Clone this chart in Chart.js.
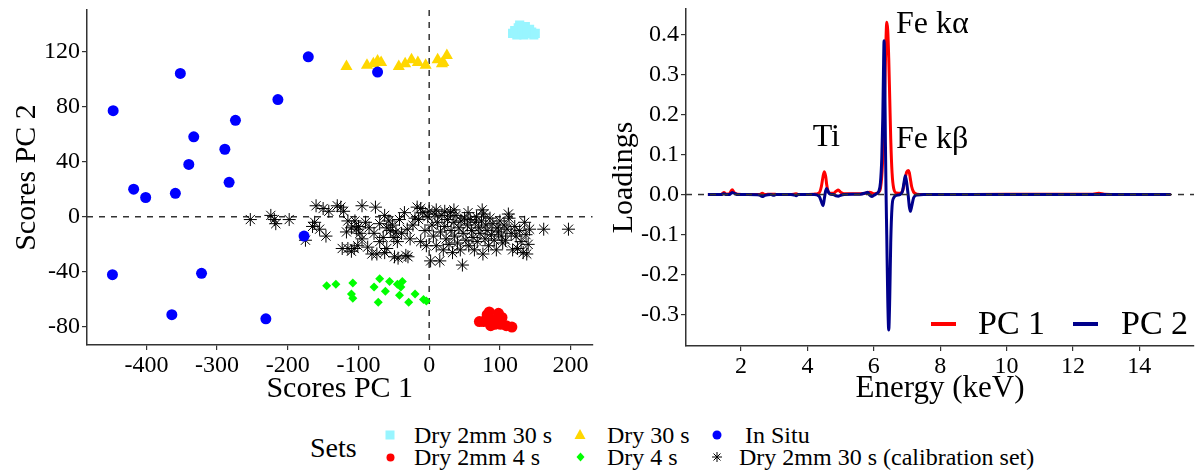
<!DOCTYPE html>
<html>
<head>
<meta charset="utf-8">
<script src="https://cdn.jsdelivr.net/npm/chart.js@4"></script>
<style>
  html, body { margin: 0; padding: 0; background: #fff; }
  #wrap { position: relative; width: 1200px; height: 473px; overflow: hidden;
          font-family: "Liberation Serif", "Times New Roman", serif; color: #000; }
  #scores { position: absolute; left: 0; top: 0; }
  #loadings { position: absolute; left: 600px; top: 0; }
  .lg { position: absolute; white-space: nowrap; line-height: 1; }
  .mk { position: absolute; }
</style>
</head>
<body>
<div id="wrap">
  <canvas id="scores" width="600" height="410"></canvas>
  <canvas id="loadings" width="600" height="410"></canvas>

  <!-- PC legend inside the loadings panel -->
  <div class="mk" style="left:931px;top:322px;width:25px;height:4px;background:#FF0000"></div>
  <div class="lg" style="left:978px;top:306px;font-size:34px">PC 1</div>
  <div class="mk" style="left:1073px;top:322px;width:25px;height:4px;background:#00008B"></div>
  <div class="lg" style="left:1121px;top:306px;font-size:34px">PC 2</div>

  <!-- Sets legend -->
  <div class="lg" style="left:310px;top:434px;font-size:28px">Sets</div>
  <svg class="mk" style="left:385px;top:430px" width="10" height="10"><rect x="0.5" y="0.5" width="9" height="9" fill="#98F5FF"/></svg>
  <div class="lg" style="left:414px;top:423px;font-size:24px">Dry 2mm 30 s</div>
  <svg class="mk" style="left:574px;top:428px" width="12" height="12"><polygon points="6,1 11.5,11 0.5,11" fill="#FFD700"/></svg>
  <div class="lg" style="left:607px;top:423px;font-size:24px">Dry 30 s</div>
  <svg class="mk" style="left:712px;top:430px" width="10" height="10"><circle cx="5" cy="5" r="4.5" fill="#0000FF"/></svg>
  <div class="lg" style="left:745px;top:423px;font-size:24px">In Situ</div>

  <svg class="mk" style="left:386px;top:453px" width="9" height="9"><circle cx="4.5" cy="4.5" r="4" fill="#FF0000"/></svg>
  <div class="lg" style="left:414px;top:445px;font-size:24px">Dry 2mm 4 s</div>
  <svg class="mk" style="left:576px;top:452px" width="9" height="10"><polygon points="4.5,0.5 8.5,5 4.5,9.5 0.5,5" fill="#00FF00"/></svg>
  <div class="lg" style="left:607px;top:445px;font-size:24px">Dry 4 s</div>
  <svg class="mk" style="left:711px;top:451px" width="12" height="12">
    <g stroke="#000" stroke-width="1">
      <line x1="6" y1="1" x2="6" y2="11"/><line x1="1" y1="6" x2="11" y2="6"/>
      <line x1="2.5" y1="2.5" x2="9.5" y2="9.5"/><line x1="9.5" y1="2.5" x2="2.5" y2="9.5"/>
    </g>
  </svg>
  <div class="lg" style="left:739px;top:445px;font-size:24px">Dry 2mm 30 s (calibration set)</div>
</div>

<script>
const FONT = '"Liberation Serif", "Times New Roman", serif';

// ---- scores (PC1, PC2) per set ----
const dry2mm30s = [[118,133],[121,135],[124,132],[126,137],[128,139],[130,134],[132,136],[134,132],
  [136,138],[138,135],[140,133],[142,136],[145,134],[148,132],[150,133]];
const dry30s = [[-117,109],[-88,110],[-79,111],[-73,113],[-68,112],[-43,109],[-34,111],[-25,114],
  [-16,112],[-5,110],[12,114],[18,111],[20,112],[25,117]];
const inSitu = [[-447,77],[-352,104],[-171,116],[-214,85],[-274,70],[-333,58],[-289,49],[-340,38],
  [-283,25],[-418,20],[-401,14],[-359,17],[-73,105],[-177,-14],[-448,-42],[-322,-41],[-364,-71],[-231,-74]];
const dry2mm4s = [[71,-76],[77,-76],[82,-71],[85,-69],[87,-79],[90,-75],[93,-78],[98,-70],[101,-78],
  [103,-73],[109,-79],[117,-80]];
const dry4s = [[-145,-50],[-132,-49],[-108,-48],[-110,-56],[-108,-59],[-78,-51],[-70,-45],[-56,-47],
  [-62,-54],[-72,-62],[-45,-49],[-40,-51],[-38,-47],[-42,-57],[-29,-62],[-20,-56],[-8,-60],[-4,-61]];
const calibration = [
  [-253,-2],[-224,1],[-219,-2],[-217,-5],[-198,-2],[-175,-17],[-165,-7],[-162,-4],[-160,8],[-155,-9],
  [-150,6],[-146,-14],[-142,4],[-130,8],[-125,7],[-121,4],[-117,-11],[-123,-23],[-115,-23],[-115,-3],
  [-110,-25],[-110,-8],[-106,-23],[-101,-21],[-105,-3],[-100,-7],[-103,-9],[-98,-12],[-95,8],[-95,-16],
  [-90,-4],[-87,-22],[-85,-8],[-81,-27],[-78,-12],[-76,7],[-74,-27],[-70,-5],[-70,-18],[-65,-15],
  [-63,1],[-63,-26],[-60,-23],[-60,-8],[-57,-3],[-55,-10],[-52,-6],[-50,-15],[-49,-29],[-47,-11],
  [-45,-18],[-44,-30],[-42,-2],[-39,-12],[-35,3],[-33,-28],[-31,-9],[-30,-29],[-27,-16],[-23,-6],
  [-20,-1],[-17,7],[-15,-2],[-12,6],[-12,-18],[-9,3],[-6,-10],[-4,-21],[-2,0],[0,4],
  [2,-32],[4,-6],[6,-14],[8,2],[10,5],[10,-21],[12,-4],[15,-32],[16,-11],[18,1],
  [20,-24],[22,4],[22,-7],[24,-16],[26,-2],[28,-20],[30,3],[31,-10],[33,-26],[35,5],
  [35,-4],[36,-14],[38,1],[40,-19],[42,-8],[44,-24],[45,-3],[47,-35],[48,-12],[50,-1],
  [52,-17],[54,-6],[55,3],[56,-21],[58,-2],[60,-10],[62,-15],[64,-24],[65,-4],[67,0],
  [68,-18],[70,-8],[72,-12],[74,-3],[75,5],[76,-27],[77,2],[79,-16],[80,-6],[82,-10],
  [84,-21],[86,-1],[88,-13],[90,-5],[92,-17],[95,-24],[96,-8],[98,-11],[100,-3],[102,-14],
  [104,-19],[106,-6],[108,-17],[110,-9],[112,2],[113,-1],[116,-12],[118,-24],[121,-7],[123,-14],
  [125,-23],[128,-10],[130,-18],[133,-26],[135,-4],[137,-13],[138,-27],[140,-20],[142,-9],[162,-9],
  [197,-9]
];
const scoreXTicks = [-400, -300, -200, -100, 0, 100, 200];
const scoreYTicks = [-80, -40, 0, 40, 80, 120];

// ---- loadings ----
const energy = [1.0, 1.4, 1.48, 1.56, 1.65, 1.73, 1.8, 1.9, 2.2, 2.55,
  2.64, 2.72, 2.9, 2.98, 3.06, 3.5, 3.6, 3.66, 3.72, 4.2,
  4.35, 4.42, 4.47, 4.51, 4.55, 4.58, 4.62, 4.68, 4.78, 4.86,
  4.93, 5.0, 5.1, 5.6, 5.75, 5.82, 5.88, 5.94, 6.0, 6.08,
  6.15, 6.2, 6.24, 6.27, 6.29, 6.31, 6.33, 6.35, 6.37, 6.39,
  6.42, 6.45, 6.48, 6.51, 6.55, 6.6, 6.68, 6.8, 6.87, 6.92,
  6.95, 6.99, 7.04, 7.07, 7.1, 7.14, 7.2, 7.3, 7.5, 9.0,
  11.0, 12.6, 12.78, 12.95, 14.0, 14.95];
const pc1 = [0, 0, 0.005, 0.001, 0.002, 0.012, 0.004, 0.001, 0, 0,
  0.003, 0, 0.001, 0.001, 0, 0, 0.001, 0.002, 0, 0.001,
  0.004, 0.02, 0.045, 0.057, 0.045, 0.025, 0.008, 0.003, 0.003, 0.008,
  0.011, 0.006, 0.002, 0.002, 0.003, 0.005, 0.006, 0.004, 0.002, 0.003,
  0.006, 0.015, 0.045, 0.09, 0.13, 0.19, 0.26, 0.33, 0.395, 0.43,
  0.41, 0.34, 0.24, 0.14, 0.055, 0.015, 0.004, 0.003, 0.01, 0.028,
  0.042, 0.056, 0.06, 0.055, 0.04, 0.02, 0.006, 0.001, 0, 0,
  0.001, 0.001, 0.003, 0.001, 0, 0];
const pc2 = [0, 0, 0.002, 0, 0, 0.005, 0.003, 0, 0, -0.001,
  -0.005, -0.002, 0, -0.002, 0, 0, -0.001, -0.003, 0, 0,
  -0.004, -0.018, -0.028, -0.01, 0.01, 0.015, 0.008, 0.001, 0, -0.003,
  -0.004, -0.002, 0, 0.001, 0.004, 0.006, -0.002, -0.005, -0.002, 0.002,
  0.008, 0.03, 0.09, 0.19, 0.3, 0.384, 0.3, 0.13, 0, -0.1,
  -0.26, -0.338, -0.26, -0.12, -0.03, -0.008, -0.002, 0, 0.01, 0.035,
  0.047, 0.03, -0.005, -0.03, -0.042, -0.03, -0.008, -0.001, 0, 0,
  0, 0, 0, 0, 0, 0];
const energyTicks = [2, 4, 6, 8, 10, 12, 14];
const loadingTicks = [-0.3, -0.2, -0.1, 0.0, 0.1, 0.2, 0.3, 0.4];
const peakNames = ['Ti', 'Fe k\u03b1', 'Fe k\u03b2'];
const peakEnergy = [4.57, 6.67, 6.67];
const peakLoading = [0.12, 0.403, 0.116];

const toXY = pts => pts.map(p => ({ x: p[0], y: p[1] }));

// dashed zero reference lines
function drawZero(chart, opts) {
  const { ctx, chartArea: a, scales: { x, y } } = chart;
  ctx.save();
  ctx.strokeStyle = '#333';
  ctx.lineWidth = 1.5;
  ctx.setLineDash([6, 6]);
  ctx.beginPath();
  if (opts.horizontal) {
    const py = y.getPixelForValue(0);
    ctx.moveTo(a.left, py); ctx.lineTo(a.right, py);
  }
  if (opts.vertical) {
    const px = x.getPixelForValue(0);
    ctx.moveTo(px, a.top); ctx.lineTo(px, a.bottom);
  }
  ctx.stroke();
  ctx.restore();
}
const zeroLines = {
  id: 'zeroLines',
  beforeDatasetsDraw(chart, args, opts) { if (!opts.onTop) drawZero(chart, opts); },
  afterDatasetsDraw(chart, args, opts) { if (opts.onTop) drawZero(chart, opts); }
};

const peakText = {
  id: 'peakText',
  afterDatasetsDraw(chart) {
    const { ctx, scales: { x, y } } = chart;
    ctx.save();
    ctx.font = '32px ' + FONT;
    ctx.fillStyle = '#000';
    ctx.textBaseline = 'alphabetic';
    peakNames.forEach((t, i) => {
      ctx.textAlign = i === 0 ? 'center' : 'left';
      ctx.fillText(t, x.getPixelForValue(peakEnergy[i]), y.getPixelForValue(peakLoading[i]));
    });
    ctx.restore();
  }
};

function axis(opts) {
  const horiz = opts.horiz;
  return {
    type: 'linear',
    min: opts.min,
    max: opts.max,
    afterBuildTicks: s => { s.ticks = opts.ticks.map(v => ({ value: v })); },
    afterFit: s => {
      if (horiz) { s.height = opts.size; s.paddingLeft = 0; s.paddingRight = 0; }
      else { s.width = opts.size; s.paddingTop = 0; s.paddingBottom = 0; }
    },
    grid: { display: true, drawOnChartArea: false, drawTicks: true, tickLength: 5, color: '#333', lineWidth: 1.2 },
    border: { display: true, color: '#333', width: 1.5 },
    ticks: { font: { family: FONT, size: 24 }, color: '#000', padding: horiz ? 1 : 2,
             maxRotation: 0, autoSkip: false, callback: opts.fmt },
    title: { display: true, text: opts.title, color: '#000', font: { family: FONT, size: opts.titleSize || 30 },
             padding: horiz ? { top: 0, bottom: 3 } : { top: opts.titlePad, bottom: 0 } }
  };
}

new Chart(document.getElementById('scores'), {
  type: 'scatter',
  data: {
    datasets: [
      { label: 'Dry 2mm 30 s (calibration set)', data: toXY(calibration), pointStyle: 'star',
        pointRadius: 6.5, borderColor: '#000', backgroundColor: '#000', borderWidth: 1, order: 6 },
      { label: 'Dry 2mm 30 s', data: toXY(dry2mm30s), pointStyle: 'rect', pointRadius: 6.5,
        backgroundColor: '#98F5FF', borderWidth: 0, order: 5 },
      { label: 'Dry 30 s', data: toXY(dry30s), pointStyle: 'triangle', pointRadius: 7,
        backgroundColor: '#FFD700', borderWidth: 0, order: 4 },
      { label: 'Dry 2mm 4 s', data: toXY(dry2mm4s), pointStyle: 'circle', pointRadius: 5.5,
        backgroundColor: '#FF0000', borderWidth: 0, order: 3 },
      { label: 'Dry 4 s', data: toXY(dry4s), pointStyle: 'rectRot', pointRadius: 4.5,
        backgroundColor: '#00FF00', borderWidth: 0, order: 2 },
      { label: 'In Situ', data: toXY(inSitu), pointStyle: 'circle', pointRadius: 5.5,
        backgroundColor: '#0000FF', borderWidth: 0, order: 1 }
    ]
  },
  options: {
    responsive: false,
    animation: false,
    layout: { padding: { left: 0, right: 5, top: 10, bottom: 0 } },
    scales: {
      x: axis({ horiz: true, min: -484, max: 231, ticks: scoreXTicks, size: 65, title: 'Scores PC 1',
                fmt: v => String(v) }),
      y: axis({ horiz: false, min: -93, max: 150, ticks: scoreYTicks, size: 87, title: 'Scores PC 2',
                titlePad: 9, fmt: v => String(v) })
    },
    plugins: {
      legend: { display: false },
      tooltip: { enabled: false },
      zeroLines: { horizontal: true, vertical: true, onTop: false }
    }
  },
  plugins: [zeroLines]
});

new Chart(document.getElementById('loadings'), {
  type: 'scatter',
  data: {
    datasets: [
      { label: 'PC 1', data: energy.map((e, i) => ({ x: e, y: pc1[i] })), showLine: true,
        borderColor: '#FF0000', borderWidth: 3, pointRadius: 0, cubicInterpolationMode: 'monotone', order: 2 },
      { label: 'PC 2', data: energy.map((e, i) => ({ x: e, y: pc2[i] })), showLine: true,
        borderColor: '#00008B', borderWidth: 3, pointRadius: 0, cubicInterpolationMode: 'monotone', order: 1 }
    ]
  },
  options: {
    responsive: false,
    animation: false,
    layout: { padding: { left: 0, right: 6, top: 9, bottom: 0 } },
    scales: {
      x: axis({ horiz: true, min: 0.34, max: 15.65, ticks: energyTicks, size: 64, title: 'Energy (keV)',
                titleSize: 31, fmt: v => String(v) }),
      y: axis({ horiz: false, min: -0.378, max: 0.463, ticks: loadingTicks, size: 86, title: 'Loadings',
                titlePad: 6, fmt: v => v.toFixed(1) })
    },
    plugins: {
      legend: { display: false },
      tooltip: { enabled: false },
      zeroLines: { horizontal: true, vertical: false, onTop: true }
    }
  },
  plugins: [zeroLines, peakText]
});
</script>
</body>
</html>
